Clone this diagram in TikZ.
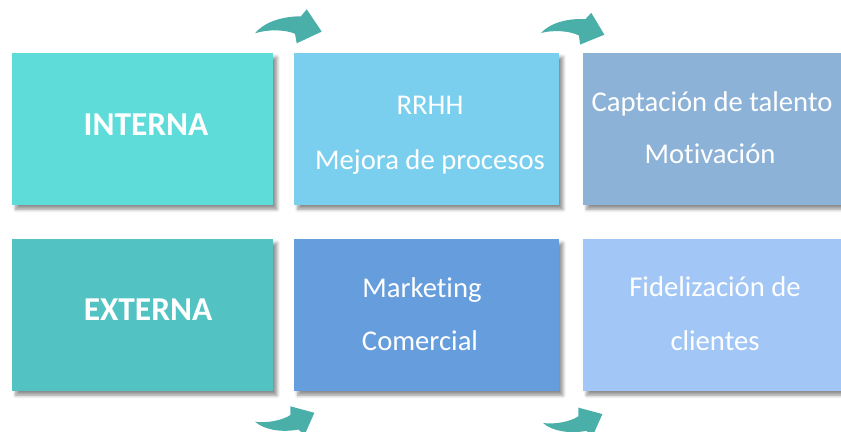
\documentclass[tikz,border=0pt]{standalone}
\usepackage{fontspec}
\setmainfont{Carlito}[Ligatures={NoCommon,NoContextual}]
\usepackage{xcolor}
\definecolor{internacolor}{HTML}{5EDCDA}
\definecolor{externacolor}{HTML}{52C3C2}
\definecolor{rrhhcolor}{HTML}{7ACFEE}
\definecolor{talentocolor}{HTML}{8DB2D8}
\definecolor{marketingcolor}{HTML}{659DDD}
\definecolor{clientescolor}{HTML}{A2C7F7}
\definecolor{arrowcolor}{HTML}{4AAFA8}
\usepackage{tikz}
\usetikzlibrary{shadows.blur}

\tikzset{
  area/.style={rectangle, inner sep=0pt, minimum width=5.3cm, minimum height=3.04cm,
    blur shadow={shadow xshift=2.2pt, shadow yshift=-2.4pt, shadow blur steps=6, shadow opacity=45}},
  areatitle/.style={white, anchor=base, font=\fontsize{19}{22}\selectfont\bfseries},
  arealine/.style={white, anchor=base, font=\fontsize{16.3}{19}\selectfont},
  turnarrow/.pic={
    \fill[arrowcolor] (0,0) .. controls (8,-10) and (25,-17) .. (46,-17)
      -- (51.7,-24) -- (66.7,-1.7) -- (41.7,10) -- (40,0.5)
      .. controls (30,-4) and (12,-4) .. cycle;
  }
}

\begin{document}
\begin{tikzpicture}[x=0.02cm, y=-0.02cm]
  \useasboundingbox (0,0) rectangle (841,432);
  % boxes
  \node[area, fill=internacolor, minimum width=5.22cm] (interna) at (142.5,129) {};
  \node[area, fill=rrhhcolor] (rrhh) at (426.5,129) {};
  \node[area, fill=talentocolor] (talento) at (715.5,129) {};
  \node[area, fill=externacolor, minimum width=5.22cm] (externa) at (142.5,315) {};
  \node[area, fill=marketingcolor] (marketing) at (426.5,315) {};
  \node[area, fill=clientescolor] (clientes) at (715.5,315) {};
  % texts
  \node[areatitle] (internatext) at (146,136) {INTERNA};
  \node[areatitle] (externatext) at (148,320) {EXTERNA};
  \node[arealine] (rrhh1) at (430,115) {RRHH};
  \node[arealine] (rrhh2) at (430,170) {Mejora de procesos};
  \node[arealine] (talento1) at (712,112) {Captación de talento};
  \node[arealine] (talento2) at (710,164) {Motivación};
  \node[arealine] (marketing1) at (422,297) {Marketing};
  \node[arealine] (marketing2) at (420,350) {Comercial};
  \node[arealine] (clientes1) at (715,296) {Fidelización de};
  \node[arealine] (clientes2) at (715,350) {clientes};
  % arrows
  \pic at (255,33.3) {turnarrow};
  \pic[rotate=-3, scale=0.95] at (541,33) {turnarrow};
  \pic[rotate=10, yscale=-1, scale=0.9] at (255,421.7) {turnarrow};
  \pic[rotate=10, yscale=-1, scale=0.9] at (543,423) {turnarrow};
\end{tikzpicture}
\end{document}
